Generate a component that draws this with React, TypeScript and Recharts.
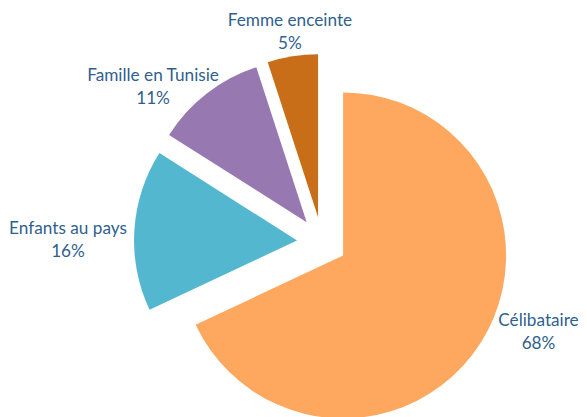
import React from 'react';
import { PieChart, Pie, Cell, Sector } from 'recharts';

const categories = ['Célibataire', 'Enfants au pays', 'Famille en Tunisie', 'Femme enceinte'];
const values = [68, 16, 11, 5];
const percentLabels = ['68%', '16%', '11%', '5%'];
const colors = ['#FDA85E', '#53B8CF', '#9878B1', '#C96E18'];

const data = categories.map((name, i) => ({ name, value: values[i], pct: percentLabels[i] }));

const RADIAN = Math.PI / 180;
const EXPLODE = 25;
const LABEL_BOX = [
  { w: 81, h: 46, nx: 18.5, ny: -27.7 },
  { w: 116, h: 46, nx: -2.5, ny: 11 },
  { w: 132, h: 46, nx: -9.6, ny: 15 },
  { w: 124, h: 46, nx: 8, ny: 3.8 },
];
const TEXT_COLOR = '#2F5F8E';

const ExplodedSector = (props: any) => {
  const { cx, cy, midAngle } = props;
  const dx = EXPLODE * Math.cos(-midAngle * RADIAN);
  const dy = EXPLODE * Math.sin(-midAngle * RADIAN);
  return <Sector {...props} cx={cx + dx} cy={cy + dy} />;
};

const renderLabel = (props: any) => {
  const { cx, cy, midAngle, outerRadius, index } = props;
  const ux = Math.cos(-midAngle * RADIAN);
  const uy = Math.sin(-midAngle * RADIAN);
  const box = LABEL_BOX[index];
  const r = outerRadius + EXPLODE + 6;
  const px = cx + ux * r + ux * box.w / 2 + box.nx;
  const py = cy + uy * r + uy * box.h / 2 + box.ny;
  const d = data[index];
  return (
    <text
      x={px}
      y={py}
      textAnchor="middle"
      fill={TEXT_COLOR}
      fontFamily="Lato, 'Open Sans', sans-serif"
      fontSize={17.2}
    >
      <tspan x={px} y={py - 11.5} dominantBaseline="central">{d.name}</tspan>
      <tspan x={px} y={py + 11.5} dominantBaseline="central">{d.pct}</tspan>
    </text>
  );
};

export default function App() {
  return (
    <div style={{ position: 'absolute', left: 0, top: 0, width: 587, height: 417, background: '#fff' }}>
      <PieChart width={587} height={417} margin={{ top: 0, right: 0, bottom: 0, left: 0 }}>
        <Pie
          data={data}
          dataKey="value"
          nameKey="name"
          cx={322}
          cy={242}
          outerRadius={163}
          startAngle={90}
          endAngle={-270}
          stroke="none"
          isAnimationActive={false}
          shape={ExplodedSector}
          label={renderLabel}
          labelLine={false}
        >
          {data.map((d, i) => (
            <Cell key={d.name} fill={colors[i]} />
          ))}
        </Pie>
      </PieChart>
    </div>
  );
}
